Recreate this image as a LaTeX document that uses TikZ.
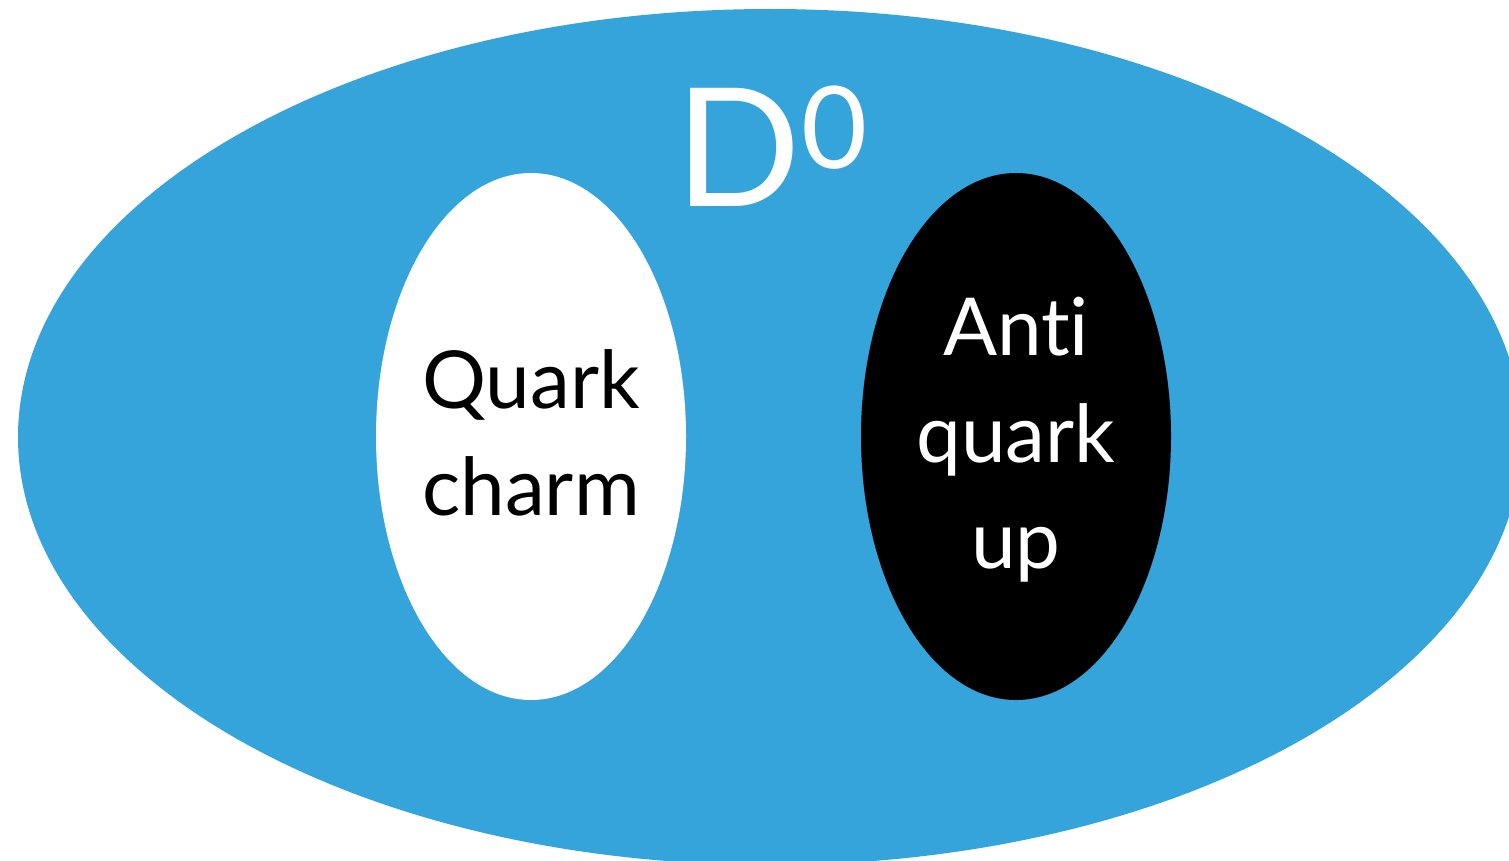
\documentclass[tikz,border=0pt]{standalone}
\usepackage{fontspec}
\setmainfont[Ligatures=CommonOff]{Lato}
\usetikzlibrary{shapes.geometric}
\definecolor{dblue}{HTML}{35A4DA}
\begin{document}
\begin{tikzpicture}[x=1pt,y=-1pt,
  quarkbox/.style={ellipse,inner sep=0pt,minimum width=310pt,minimum height=527pt},
  lbl/.style={anchor=base,inner sep=0pt,font=\fontsize{80}{96}\selectfont}]
\useasboundingbox (0,0) rectangle (1509,861);
\clip (0,0) rectangle (1509,861);
\node[ellipse,fill=dblue,inner sep=0pt,minimum width=1504pt,minimum height=856pt] (meson) at (770,437) {};
\node[quarkbox,fill=white] (charm) at (531,436.5) {};
\node[quarkbox,fill=black] (up) at (1016,436.5) {};
\node[anchor=base west,inner sep=0pt,text=white,font=\fontsize{165}{180}\selectfont] (D) at (675,207) {D};
\node[anchor=base west,inner sep=0pt,text=white,font=\fontsize{114}{130}\selectfont] (zero) at (801,169) {0};
\node[lbl,text=black] (q1) at (531,408) {Quark};
\node[lbl,text=black] (q2) at (531,515) {charm};
\node[lbl,text=white] (a1) at (1016,355) {Anti};
\node[lbl,text=white] (a2) at (1016,462) {quark};
\node[lbl,text=white] (a3) at (1016,568) {up};
\end{tikzpicture}
\end{document}
